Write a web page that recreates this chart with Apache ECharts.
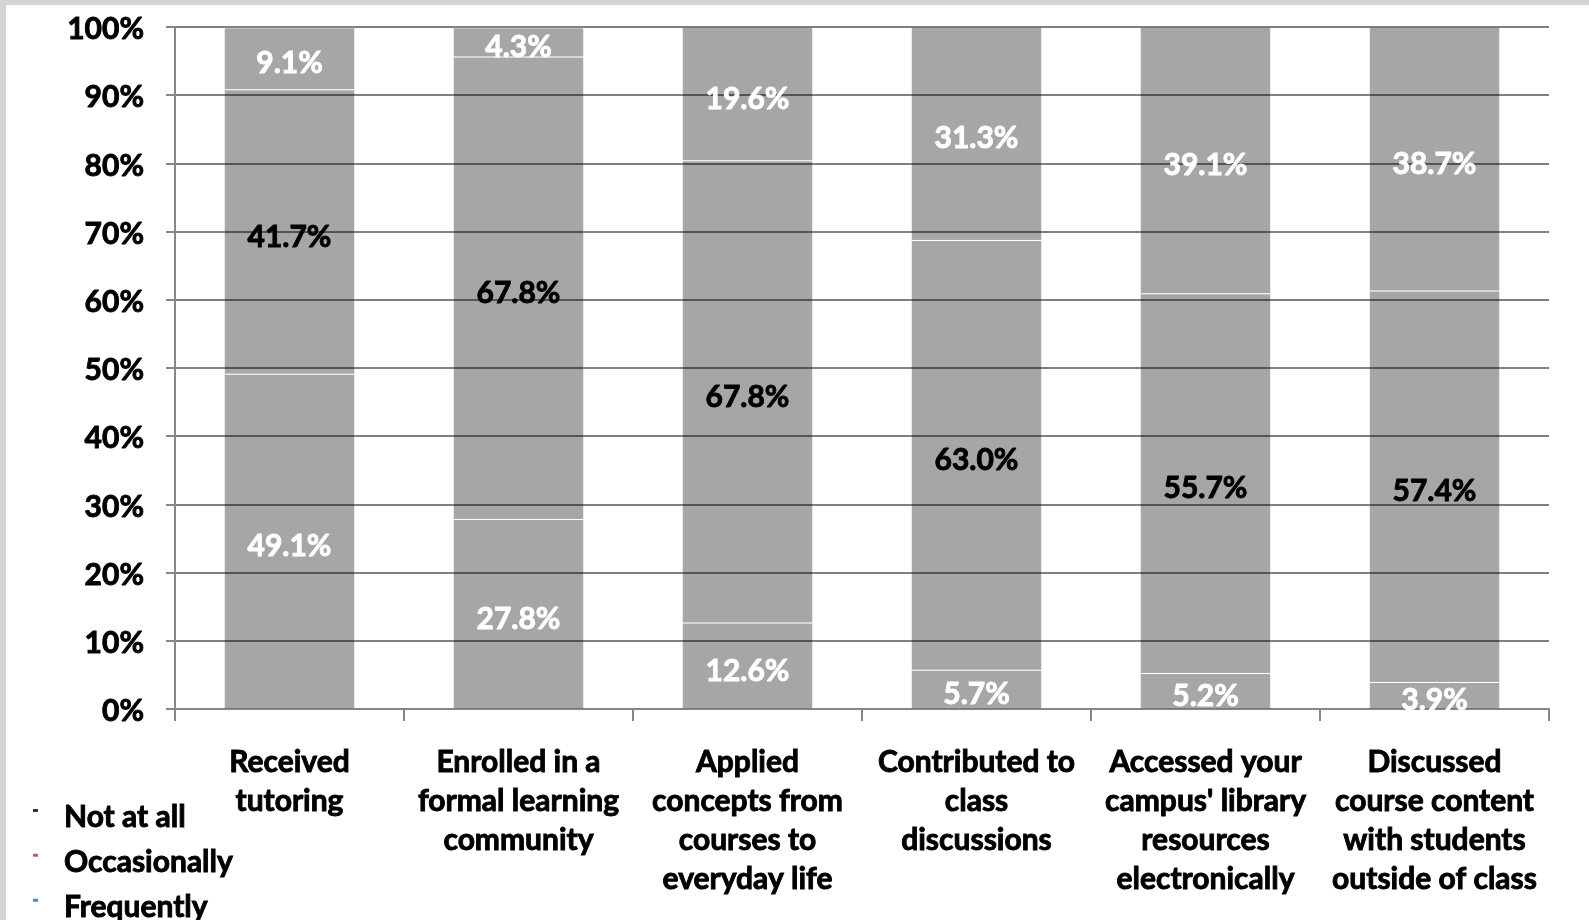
<!DOCTYPE html>
<html>
<head>
<meta charset="utf-8">
<script src="https://cdn.jsdelivr.net/npm/echarts@6/dist/echarts.min.js"></script>
<style>
  html, body { margin: 0; padding: 0; background: #d4d4d4; width: 1589px; height: 920px; overflow: hidden; }
  #chart { position: absolute; left: 6px; top: 5px; width: 1583px; height: 945px; background: #ffffff; }
</style>
</head>
<body>
<div id="chart"></div>
<script>
const categories = [
  "Received\ntutoring",
  "Enrolled in a\nformal learning\ncommunity",
  "Applied\nconcepts from\ncourses to\neveryday life",
  "Contributed to\nclass\ndiscussions",
  "Accessed your\ncampus' library\nresources\nelectronically",
  "Discussed\ncourse content\nwith students\noutside of class"
];
const seriesNames = ["Not at all", "Occasionally", "Frequently"];
const notAtAll     = [49.1, 27.8, 12.6, 5.7, 5.2, 3.9];
const occasionally = [41.7, 67.8, 67.8, 63.0, 55.7, 57.4];
const frequently   = [9.1, 4.3, 19.6, 31.3, 39.1, 38.7];
const legendColors = ["#1f2a3a", "#c0504d", "#4f81bd"];
const yTicks = [0, 10, 20, 30, 40, 50, 60, 70, 80, 90, 100];

const FONT = "Lato";
const barFill = "rgba(0,0,0,0.35)";
// small square marker sitting at the top of a taller (invisible) icon box
const legendIcon = "path://M0,0L5,0L5,3L0,3Z M0,17L0.01,17L0.01,17.01L0,17.01Z";
const boldText = (color, size) => ({
  fontFamily: FONT,
  fontWeight: "bold",
  fontSize: size,
  color: color,
  textBorderColor: color,
  textBorderWidth: 0.9
});

function makeSeries(name, data, labelColor) {
  return {
    name: name,
    type: "bar",
    stack: "total",
    barWidth: "57%",
    data: data,
    itemStyle: { color: barFill, borderColor: "rgba(255,255,255,0.08)", borderWidth: 1 },
    label: Object.assign({
      show: true,
      position: "inside",
      offset: [0, 5],
      formatter: p => p.value.toFixed(1) + "%"
    }, boldText(labelColor, 30)),
    emphasis: { disabled: true }
  };
}

const chart = echarts.init(document.getElementById("chart"));
chart.setOption({
  backgroundColor: "#ffffff",
  animation: false,
  grid: { left: 169, right: 40, top: 22, bottom: 241, containLabel: false },
  legend: {
    orient: "vertical",
    left: 26,
    top: 797,
    padding: 0,
    icon: legendIcon,
    itemWidth: 5,
    itemHeight: 17,
    itemGap: 14,
    selectedMode: false,
    data: seriesNames.map((n, i) => ({ name: n, itemStyle: { color: legendColors[i] } })),
    textStyle: Object.assign(boldText("#000", 30), {
      lineHeight: 20,
      padding: [0, 0, 0, 21]
    })
  },
  xAxis: {
    type: "category",
    data: categories,
    axisLine: { show: true, lineStyle: { color: "#868686", width: 2 } },
    axisTick: { show: true, length: 12, alignWithLabel: false, lineStyle: { color: "#868686", width: 2 } },
    axisLabel: Object.assign({
      interval: 0,
      margin: 34,
      lineHeight: 39
    }, boldText("#000", 30))
  },
  yAxis: {
    type: "value",
    min: 0,
    max: 100,
    interval: 10,
    axisLine: { show: true, lineStyle: { color: "#868686", width: 2 } },
    axisTick: { show: true, length: 9, lineStyle: { color: "#868686", width: 2 } },
    splitLine: { show: true, lineStyle: { color: "#808080", width: 2 } },
    axisLabel: Object.assign({
      margin: 31,
      verticalAlign: "top",
      lineHeight: 5,
      formatter: v => (yTicks.indexOf(v) >= 0 ? v + "%" : "")
    }, boldText("#000", 30))
  },
  series: [
    makeSeries(seriesNames[0], notAtAll, "#ffffff"),
    makeSeries(seriesNames[1], occasionally, "#000000"),
    makeSeries(seriesNames[2], frequently, "#ffffff")
  ]
});
</script>
</body>
</html>
